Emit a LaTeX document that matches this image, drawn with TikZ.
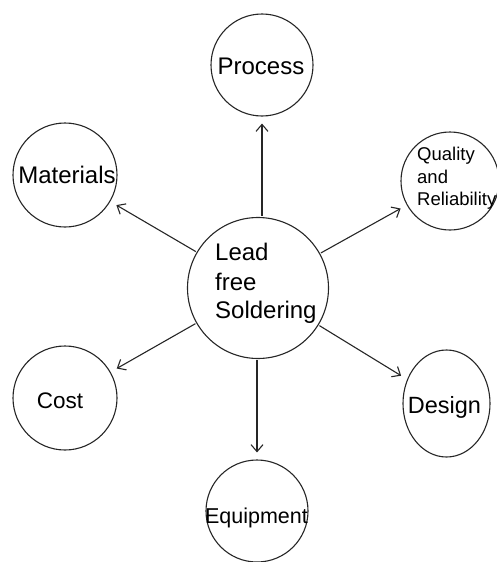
\documentclass[tikz,border=0pt]{standalone}
\usepackage{fontspec}
\setmainfont{Liberation Sans}
\usetikzlibrary{arrows.meta,shapes.geometric}
\begin{document}
\begin{tikzpicture}[x=1pt,y=-1pt,
  bubble/.style={draw=black!85,line width=1.1pt,circle,inner sep=0pt,minimum size=#1},
  oval/.style 2 args={draw=black!85,line width=1.1pt,ellipse,inner sep=0pt,minimum width=#1,minimum height=#2},
  word/.style={anchor=base,inner sep=0pt,text=black,font=\fontsize{#1}{#1}\selectfont},
  word/.default=24,
  link/.style={draw=black!85,line width=1.1pt,
    -{Straight Barb[length=7pt,width=12pt,line width=1.1pt]},
    shorten >=7pt,shorten <=1pt}]
\useasboundingbox (0,0) rectangle (496,562);

% circles
\node[bubble=141pt] (hub)  at (258,288) {};
\node[bubble=102pt] (proc) at (262,65)  {};
\node[bubble=104pt] (mat)  at (65,175)  {};
\node[bubble=98pt]  (qual) at (450,181) {};
\node[bubble=104pt] (cost) at (65,398)  {};
\node[oval={87pt}{107pt}] (des) at (446.5,403.5) {};
\node[bubble=102pt] (equip) at (257,511) {};

% labels
\node[word,anchor=base west] (t1) at (215,260) {Lead};
\node[word,anchor=base west] (t2) at (215,290) {free};
\node[word,anchor=base west] (t3) at (215,318) {Soldering};
\node[word] (tp) at (261,74) {Process};
\node[word] (tm) at (67,183) {Materials};
\node[word=18.5,anchor=base west] (tq1) at (417,160) {Quality};
\node[word=18.5,anchor=base west] (tq2) at (417,183) {and};
\node[word=18.5,anchor=base west] (tq3) at (417,205) {Reliability};
\node[word=22.5] (tc) at (60,408) {Cost};
\node[word=23.5] (td) at (444.5,413) {Design};
\node[word=21.5] (te) at (256.5,523) {Equipment};

% arrows from the hub
\draw[link] (proc |- hub.north) -- (proc);
\draw[link] (hub) -- (mat);
\draw[link] (hub) -- (qual);
\draw[link] (hub) -- (cost);
\draw[link] (hub) -- (des);
\draw[link] (equip |- hub.south) -- (equip);
\end{tikzpicture}
\end{document}
